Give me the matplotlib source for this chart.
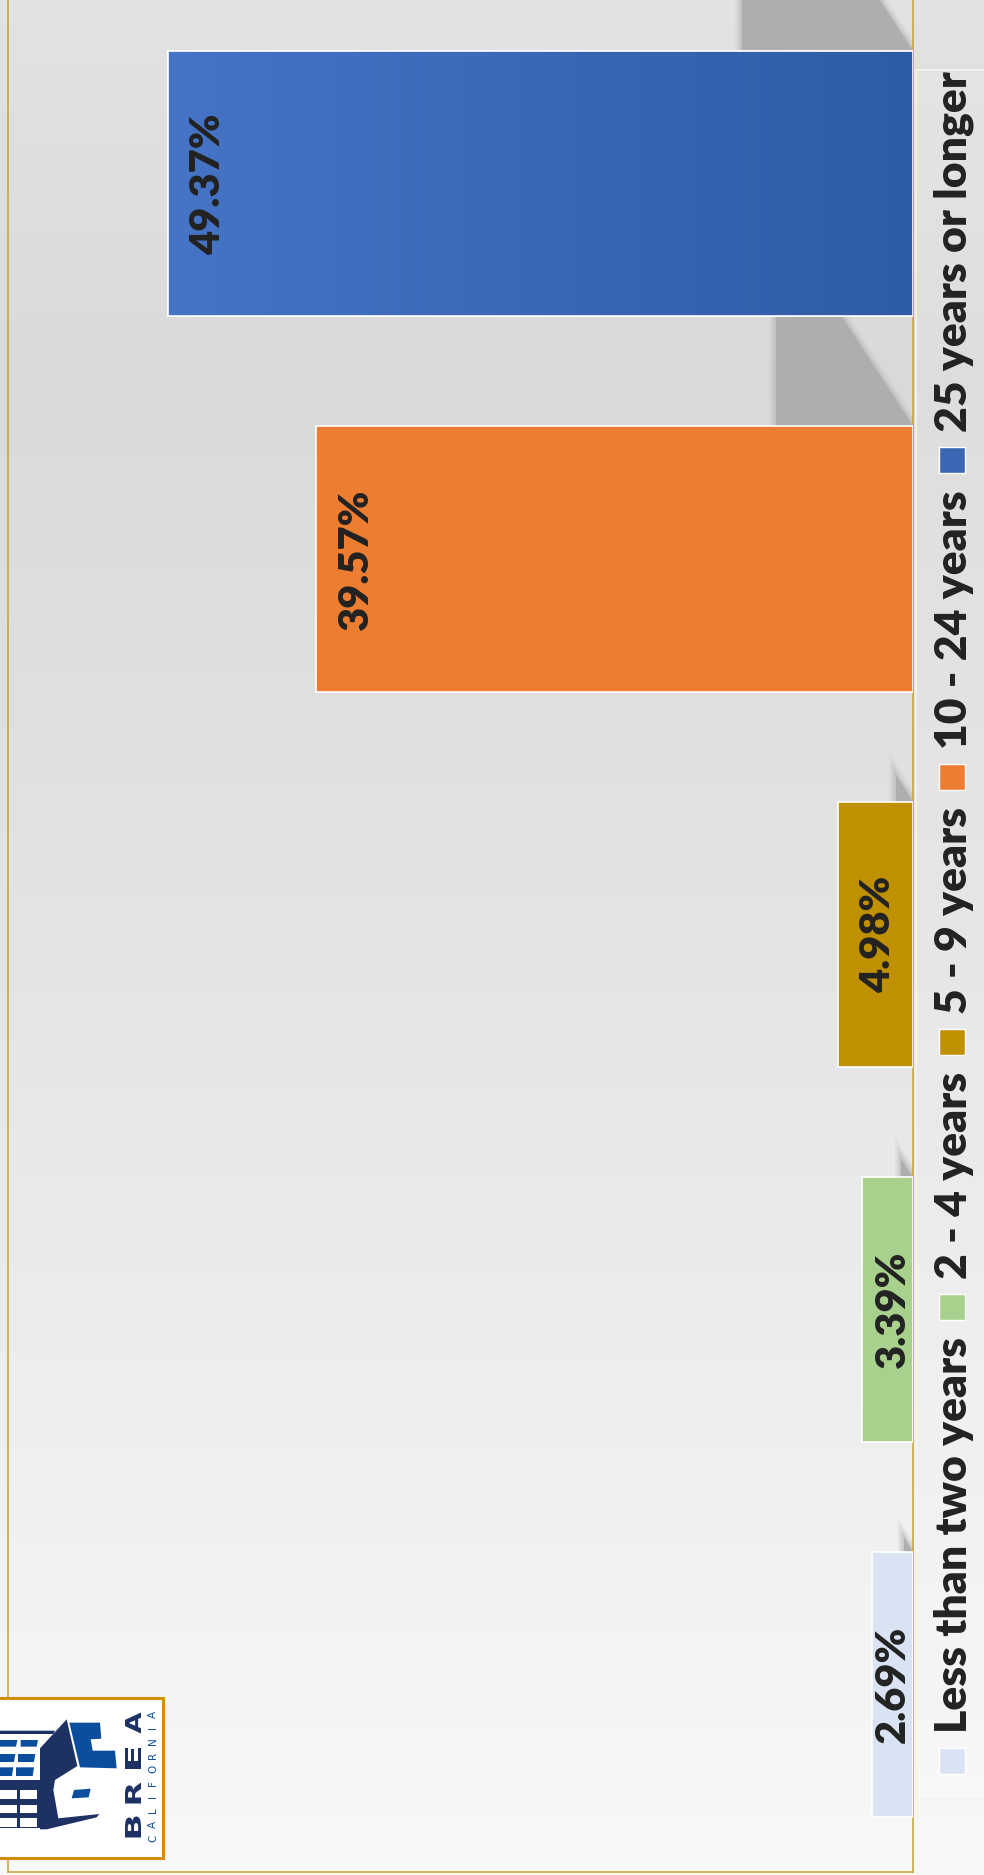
import numpy as np
import matplotlib.pyplot as plt
from matplotlib.patches import Rectangle, Polygon, PathPatch
from matplotlib.textpath import TextPath
from matplotlib.font_manager import FontProperties
from matplotlib.transforms import Affine2D
from matplotlib.colors import LinearSegmentedColormap

# data (bottom to top in the rotated chart)
categories = ['Less than two years', '2 - 4 years', '5 - 9 years',
              '10 - 24 years', '25 years or longer']
shares = [2.69, 3.39, 4.98, 39.57, 49.37]
bar_colors = ['#DAE3F3', '#A9D18E', '#BF9000', '#ED7D31', '#4472C4']

W, H = 984, 1875
FONT = 'Lato'
TXT = '#222222'
GOLD = '#C9A032'
NAVY = '#1E3163'
LBLUE = '#0C4E9E'

fig = plt.figure(figsize=(W / 100, H / 100), dpi=100)

# soft grey background
bg = fig.add_axes([0, 0, 1, 1], zorder=-5)
shade = np.interp(np.linspace(0, 1, 600), [0, .2, .5, 1], [.885, .85, .89, .97])
bg.imshow(np.tile(shade[:, None], (1, 2)), cmap='gray', vmin=0, vmax=1,
          aspect='auto', extent=[0, 1, 0, 1])
bg.set_axis_off()

# main plot (value axis runs right -> left)
ax = fig.add_axes([8 / W, 3 / H, 905 / W, 1872 / H])
ax.patch.set_alpha(0)
ypos = np.arange(len(categories))
bar_h = 0.707
bars = ax.barh(ypos, shares, height=bar_h, color=bar_colors,
               edgecolor='white', linewidth=1.2, zorder=3)
xmax, ylo, yhi = 60, -0.5, 4.49
ppu = 905 / xmax
ypx = 1872 / (yhi - ylo)

# skewed, blurred drop shadows behind each bar
for y, v in zip(ypos, shares):
    yt = y + bar_h / 2
    w = 0.23 * v
    hgt = (w * ppu / 0.65) / ypx
    tri = [(0, yt), (w, yt), (w, yt + hgt)]
    for lw, a in [(9, 0.12), (6, 0.2), (3, 0.35)]:
        ax.add_patch(Polygon(tri, closed=True, fill=False,
                             ec=(0.68, 0.68, 0.68, a), lw=lw, zorder=1.9))
    ax.add_patch(Polygon(tri, closed=True, fc='#aeaeae', ec='none', zorder=2))

# gradient on the big blue bar
blue_cmap = LinearSegmentedColormap.from_list('blu', ['#4674C6', '#2F5CA6'])
b = bars[-1]
im = ax.imshow(np.linspace(0, 1, 256)[None, :], cmap=blue_cmap, aspect='auto',
               extent=[b.get_width(), 0, b.get_y(), b.get_y() + b.get_height()],
               zorder=3.5)
im.set_clip_path(b)
ax.add_patch(Rectangle((0, b.get_y()), b.get_width(), b.get_height(),
                       fill=False, ec='white', lw=1.2, zorder=4))

ax.set_xlim(xmax, 0)
ax.set_ylim(ylo, yhi)
ax.set_xticks([])
ax.set_yticks([])
ax.spines['top'].set_visible(False)
for s in ['left', 'right', 'bottom']:
    ax.spines[s].set_color(GOLD)
    ax.spines[s].set_linewidth(1.1)

for y, v in zip(ypos, shares):
    xc = max(v - 40 / ppu, 20 / ppu)
    ax.text(xc, y, f'{v:.2f}%', rotation=90, ha='center', va='center',
            fontsize=30, fontweight='heavy', family=FONT, color=TXT, zorder=5)

# overlay in pixel coords (y up) for legend and logo
ov = fig.add_axes([0, 0, 1, 1], zorder=10)
ov.set_xlim(0, W)
ov.set_ylim(0, H)
ov.set_axis_off()
ov.patch.set_alpha(0)

ov.add_patch(Rectangle((916, H - 1799), 90, 1799 - 70, fc=(1, 1, 1, 0.12),
                       ec='#f3f3f3', lw=1.2))
rend = fig.canvas.get_renderer()
cur = H - 1774
for cat, col in zip(categories, bar_colors):
    if col == '#4472C4':
        col = '#3A66B4'
    ov.add_patch(Rectangle((939, cur), 26, 26, fc=col, ec='white', lw=1))
    t = ov.text(967, cur + 26 + 15, cat, rotation=90, rotation_mode='anchor',
                ha='left', va='baseline', fontsize=32, fontweight='heavy',
                family=FONT, color=TXT)
    cur = cur + 26 + 15 + t.get_window_extent(rend).height + 17

# logo (bottom-left)
def lp(zx, zy):
    return (zx / 3, H - (1680 + zy / 3))

ov.add_patch(Rectangle((-10, H - 1858), 173, 160, fc='white', ec='#D08E0C', lw=2.2))

navy_shapes = [
    [(0, 152), (165, 152), (160, 162), (0, 162)],
    [(0, 300), (122, 300), (122, 445), (0, 445)],
    [(120, 205), (200, 118), (232, 258), (165, 300), (160, 330),
     (175, 415), (298, 402), (290, 412), (140, 448), (120, 448)],
]
for pts in navy_shapes:
    ov.add_patch(Polygon([lp(*p) for p in pts], closed=True, fc=NAVY, ec='none'))

win_white = [(0, 330, 50, 358), (60, 330, 110, 358), (0, 375, 50, 400),
             (60, 375, 110, 400), (0, 415, 50, 440), (60, 415, 110, 440)]
for x0, y0, x1, y1 in win_white:
    ov.add_patch(Polygon([lp(x0, y0), lp(x1, y0), lp(x1, y1), lp(x0, y1)],
                         closed=True, fc='white', ec='none'))

win_blue = [(0, 180, 52, 200), (62, 180, 114, 200), (0, 222, 46, 246),
            (54, 222, 106, 246), (0, 262, 40, 288), (48, 262, 102, 288)]
for x0, y0, x1, y1 in win_blue:
    ov.add_patch(Polygon([lp(x0, y0), lp(x1, y0), lp(x1 - 4, y1), lp(x0, y1)],
                         closed=True, fc=LBLUE, ec='none'))

blue_shapes = [
    [(208, 128), (300, 128), (304, 176), (272, 178), (278, 212), (345, 212),
     (350, 265), (240, 262)],
    [(222, 330), (272, 326), (266, 352), (215, 355)],
]
for pts in blue_shapes:
    ov.add_patch(Polygon([lp(*p) for p in pts], closed=True, fc=LBLUE, ec='none'))

fp = FontProperties(family='DejaVu Sans', weight='bold')
for ch, cy in zip('BREA', [1827, 1793, 1758, 1723]):
    path = TextPath((0, 0), ch, size=1, prop=fp)
    ex = path.get_extents()
    tr = (Affine2D().translate(-ex.x0 - ex.width / 2, -ex.y0 - ex.height / 2)
          .scale(21 / ex.width, 16 / ex.height).rotate_deg(90)
          .translate(133, H - cy))
    ov.add_patch(PathPatch(tr.transform_path(path), fc=NAVY, ec='none'))

for ch, cy in zip('CALIFORNIA', np.linspace(1838, 1714, 10)):
    ov.text(153, H - cy, ch, rotation=90, ha='center', va='center',
            fontsize=7.5, family='DejaVu Sans', color=LBLUE)

fig.savefig('out.png', dpi=100)
